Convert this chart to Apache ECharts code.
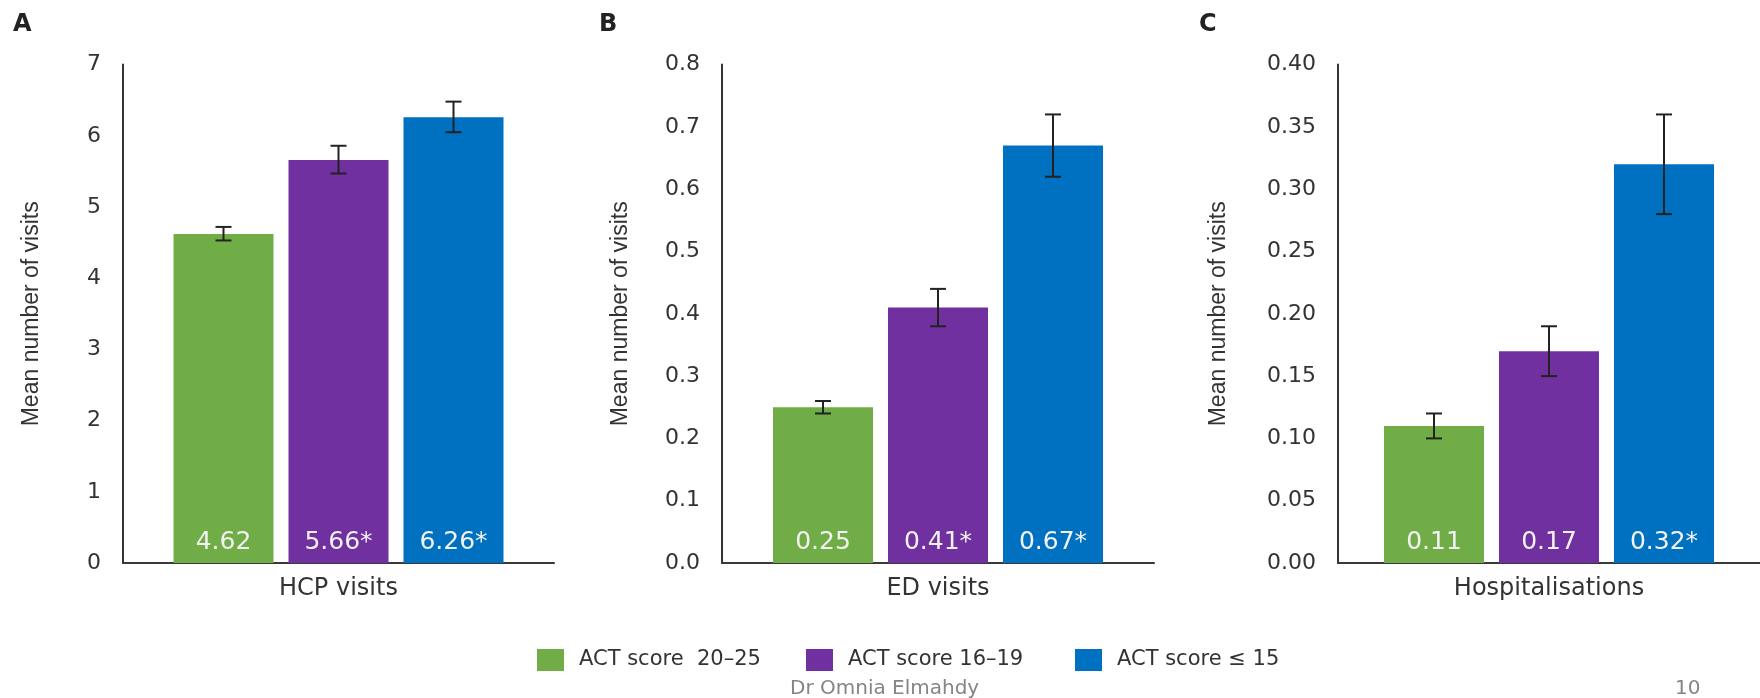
<!DOCTYPE html>
<html>
<head>
<meta charset="utf-8">
<script src="https://cdn.jsdelivr.net/npm/echarts@6/dist/echarts.min.js"></script>
<style>
html,body{margin:0;padding:0;background:#ffffff;}
#chart{width:1760px;height:698px;}
</style>
</head>
<body>
<div id="chart"></div>
<script>
// ---------- data ----------
const groups = ['ACT score  20–25', 'ACT score 16–19', 'ACT score ≤ 15'];
const groupColors = ['#70AD47', '#7030A0', '#0070C0'];
const panelLetters = ['A', 'B', 'C'];

const hcpCategory = ['HCP visits'];
const hcpMeans = [4.62, 5.66, 6.26];
const hcpLow = [4.53, 5.47, 6.05];
const hcpHigh = [4.72, 5.86, 6.48];
const hcpLabels = ['4.62', '5.66*', '6.26*'];
const hcpTicks = ['0', '1', '2', '3', '4', '5', '6', '7'];

const edCategory = ['ED visits'];
const edMeans = [0.25, 0.41, 0.67];
const edLow = [0.24, 0.38, 0.62];
const edHigh = [0.26, 0.44, 0.72];
const edLabels = ['0.25', '0.41*', '0.67*'];
const edTicks = ['0.0', '0.1', '0.2', '0.3', '0.4', '0.5', '0.6', '0.7', '0.8'];

const hospCategory = ['Hospitalisations'];
const hospMeans = [0.11, 0.17, 0.32];
const hospLow = [0.10, 0.15, 0.28];
const hospHigh = [0.12, 0.19, 0.36];
const hospLabels = ['0.11', '0.17', '0.32*'];
const hospTicks = ['0.00', '0.05', '0.10', '0.15', '0.20', '0.25', '0.30', '0.35', '0.40'];

const yAxisTitle = 'Mean number of visits';
const footerText = 'Dr Omnia Elmahdy';
const pageNumber = '10';

// ---------- layout / style ----------
const FONT = 'DejaVu Sans';
const BAR_W = 100;
const BAR_GAP = '15%';
const panels = [
  { cat: hcpCategory, means: hcpMeans, low: hcpLow, high: hcpHigh, labels: hcpLabels, ticks: hcpTicks, interval: 1,
    grid: { left: 123, top: 64.6, width: 431, height: 498.4 }, nameGap: 80, letterX: 13 },
  { cat: edCategory, means: edMeans, low: edLow, high: edHigh, labels: edLabels, ticks: edTicks, interval: 0.1,
    grid: { left: 722, top: 64.6, width: 432, height: 498.4 }, nameGap: 90, letterX: 599 },
  { cat: hospCategory, means: hospMeans, low: hospLow, high: hospHigh, labels: hospLabels, ticks: hospTicks, interval: 0.05,
    grid: { left: 1338, top: 64.6, width: 433, height: 498.4 }, nameGap: 108, letterX: 1199 }
];

function errorRender(params, api) {
  const g = api.value(3);
  const layout = api.barLayout({ count: groups.length, barWidth: BAR_W, barGap: BAR_GAP });
  const lo = api.coord([api.value(0), api.value(1)]);
  const hi = api.coord([api.value(0), api.value(2)]);
  const x = lo[0] + layout[g].offsetCenter;
  const hw = 8;
  const st = { stroke: '#222222', lineWidth: 2 };
  return {
    type: 'group',
    children: [
      { type: 'line', shape: { x1: x, y1: lo[1], x2: x, y2: hi[1] }, style: st },
      { type: 'line', shape: { x1: x - hw, y1: lo[1], x2: x + hw, y2: lo[1] }, style: st },
      { type: 'line', shape: { x1: x - hw, y1: hi[1], x2: x + hw, y2: hi[1] }, style: st }
    ]
  };
}

const grid = [], xAxis = [], yAxis = [], series = [], title = [];
panels.forEach((p, k) => {
  grid.push(Object.assign({ containLabel: false }, p.grid));
  xAxis.push({
    type: 'category', gridIndex: k, data: p.cat,
    axisLine: { show: true, lineStyle: { color: '#3a3a3a', width: 2 } },
    axisTick: { show: false },
    axisLabel: { margin: 14, fontFamily: FONT, fontSize: 24, color: '#333333' }
  });
  const maxV = (p.ticks.length - 1) * p.interval;
  yAxis.push({
    type: 'value', gridIndex: k, min: 0, max: Number(maxV.toFixed(4)), interval: p.interval,
    name: yAxisTitle, nameLocation: 'middle', nameGap: p.nameGap,
    nameTextStyle: { fontFamily: 'Liberation Sans', fontSize: 23, color: '#333333' },
    axisLine: { show: true, lineStyle: { color: '#333333', width: 2 } },
    axisTick: { show: false },
    splitLine: { show: false },
    axisLabel: {
      margin: 22, fontFamily: FONT, fontSize: 22, color: '#333333',
      formatter: (v) => p.ticks[Math.round(v / p.interval)]
    }
  });
  groups.forEach((gname, i) => {
    series.push({
      type: 'bar', name: gname, xAxisIndex: k, yAxisIndex: k,
      data: [p.means[i]], barWidth: BAR_W, barGap: BAR_GAP,
      itemStyle: { color: groupColors[i] },
      label: {
        show: true, position: 'insideBottom', distance: 8,
        formatter: () => p.labels[i],
        color: '#f2f2f2', fontFamily: FONT, fontSize: 25
      }
    });
  });
  series.push({
    type: 'custom', xAxisIndex: k, yAxisIndex: k, z: 5,
    renderItem: errorRender,
    encode: { x: 0, y: [1, 2] },
    data: groups.map((g, i) => [0, p.low[i], p.high[i], i])
  });
  title.push({
    text: panelLetters[k], left: p.letterX, top: 13, padding: 0,
    textStyle: { fontFamily: FONT, fontWeight: 'bold', fontSize: 24, color: '#222222' }
  });
});

const legendLefts = [537, 806, 1075];
const legend = groups.map((name, i) => ({
  data: [name], left: legendLefts[i], top: 649, padding: 0, itemGap: 0,
  itemWidth: 27, itemHeight: 22, icon: 'rect',
  textStyle: { fontFamily: FONT, fontSize: 21, color: '#333333', padding: [0, 0, 0, 10] }
}));

const chart = echarts.init(document.getElementById('chart'), null, { renderer: 'canvas' });
chart.setOption({
  animation: false,
  backgroundColor: '#ffffff',
  title: title,
  legend: legend,
  grid: grid,
  xAxis: xAxis,
  yAxis: yAxis,
  series: series,
  graphic: [
    { type: 'text', left: 790, top: 679, style: { text: footerText, fontFamily: FONT, fontSize: 20, fill: '#858585' } },
    { type: 'text', left: 1675, top: 679, style: { text: pageNumber, fontFamily: FONT, fontSize: 20, fill: '#858585' } }
  ]
});
</script>
</body>
</html>
